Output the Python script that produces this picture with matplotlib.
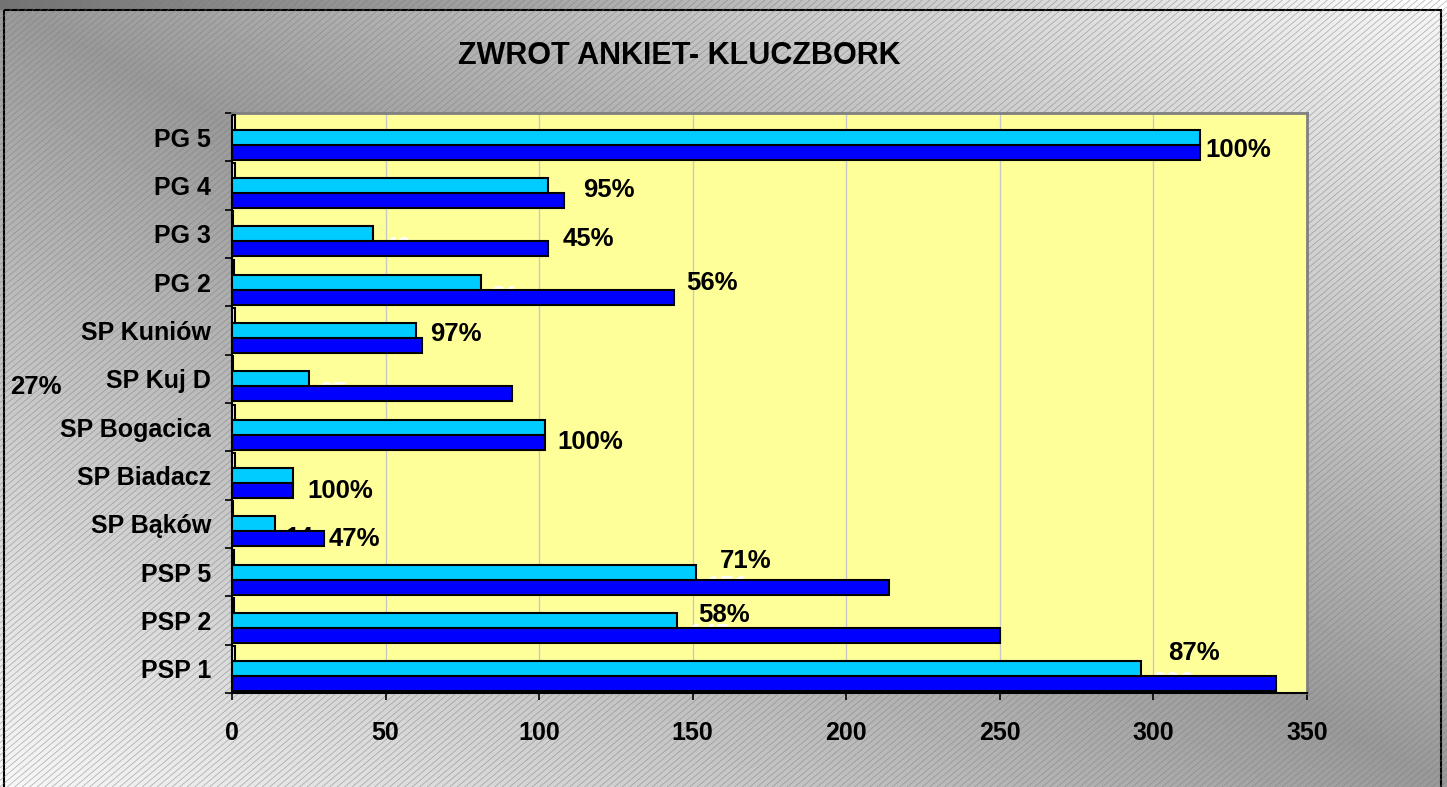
import numpy as np
import matplotlib
matplotlib.use("Agg")
import matplotlib.pyplot as plt
from matplotlib.collections import LineCollection
from matplotlib.patches import Rectangle

plt.rcParams["font.family"] = ["Liberation Sans", "DejaVu Sans"]

# data (bottom to top, as in the chart)
schools = ["PSP 1", "PSP 2", "PSP 5", "SP Bąków", "SP Biadacz", "SP Bogacica",
           "SP Kuj D", "SP Kuniów", "PG 2", "PG 3", "PG 4", "PG 5"]
sent = [340, 250, 214, 30, 20, 102, 91, 62, 144, 103, 108, 315]
returned = [296, 145, 151, 14, 20, 102, 25, 60, 81, 46, 103, 315]
pct = [0.87, 0.58, 0.71, 0.47, 1.00, 1.00, 0.27, 0.97, 0.56, 0.45, 0.95, 1.00]

# hand-placed positions of the percentage labels (x in data units, y shift in rows)
pct_label_x = [304.8, 151.7, 158.9, 31.3, 24.4, 105.8, -72.3, 64.5, 147.8, 107.8, 114.3, 316.8]
pct_label_dy = [0.33, 0.11, 0.23, -0.31, -0.32, -0.30, -0.16, -0.08, -0.02, -0.11, -0.10, -0.27]

W, H = 1447, 787
fig = plt.figure(figsize=(W / 100, H / 100), dpi=100)

# background: diagonal gradient + thin hatch lines
bg = fig.add_axes([0, 0, 1, 1], zorder=-10)
bg.set_xlim(0, W)
bg.set_ylim(H, 0)
bg.axis("off")
gx, gy = np.meshgrid(np.linspace(0, 1, 400), np.linspace(0, 1, 250))
shade = 0.60 + 0.37 * np.abs(gx - gy)
bg.imshow(shade, cmap="gray", vmin=0, vmax=1, extent=[0, W, H, 0], aspect="auto")
theta = np.deg2rad(40)
dx = H / np.tan(theta)
segs = [[(x0, H), (x0 + dx, 0)] for x0 in np.arange(-dx, W + 10, 7.5)]
bg.add_collection(LineCollection(segs, colors="#7a7a7a", linewidths=0.5, alpha=0.6))
top = np.linspace(0.45, 1.0, 300)[None, :]
bg.imshow(top, cmap="gray", vmin=0, vmax=1, extent=[0, W, 10, 0], aspect="auto")
bg.add_patch(Rectangle((4, 10), 1437, H, fill=False, edgecolor="black", lw=1.5))

ax = fig.add_axes([232 / W, 1 - 693 / H, (1307 - 232) / W, (693 - 113) / H])
ax.set_facecolor("#FFFF99")

y = np.arange(len(schools))
h = 0.31
ax.barh(y - h, sent, height=h, color="#0000FF", edgecolor="black", linewidth=1.5, zorder=3)
ax.barh(y, returned, height=h, color="#00CCFF", edgecolor="black", linewidth=1.5, zorder=3)
ax.barh(y + h, pct, height=h, color="#FFFF99", edgecolor="black", linewidth=1.5, zorder=3)

# count labels of the returned series, sitting behind the dark bars (only their tops show)
for i, r in enumerate(returned):
    if pct[i] >= 0.95:
        continue
    col = "black" if schools[i] == "SP Bąków" else "white"
    ax.text(r + 3.5, y[i] - 0.30, str(r), color=col, fontsize=18, fontweight="bold",
            ha="left", va="center", zorder=2.5)

for i, p in enumerate(pct):
    ax.text(pct_label_x[i], y[i] + pct_label_dy[i], f"{round(p * 100)}%", fontsize=18.5,
            fontweight="bold", ha="left", va="center", zorder=5, clip_on=False)

ax.set_xlim(0, 350)
ax.set_ylim(-0.5, len(schools) - 0.5)
ax.set_xticks(range(0, 351, 50))
ax.set_yticks(y)
ax.set_yticklabels(schools)
ax.set_yticks(np.arange(-0.5, len(schools), 1), minor=True)
ax.tick_params(axis="y", which="major", length=0, pad=15, labelsize=18)
ax.tick_params(axis="y", which="minor", length=5, width=1.2, direction="out")
ax.tick_params(axis="x", length=5, width=1.2, direction="out", pad=15, labelsize=18)
for lab in ax.get_xticklabels() + ax.get_yticklabels():
    lab.set_fontweight("bold")
ax.grid(axis="x", color="#c8c8c8", linewidth=1, zorder=0)
ax.set_axisbelow(True)
ax.spines["left"].set_linewidth(1.5)
ax.spines["bottom"].set_linewidth(1.5)
ax.spines["top"].set_color("#808080")
ax.spines["right"].set_color("#808080")
ax.spines["top"].set_linewidth(2)
ax.spines["right"].set_linewidth(2)

fig.text(679 / W, 1 - 56 / H, "ZWROT ANKIET- KLUCZBORK", fontsize=22, fontweight="bold",
         ha="center", va="center")

fig.savefig("out.png", dpi=100)
